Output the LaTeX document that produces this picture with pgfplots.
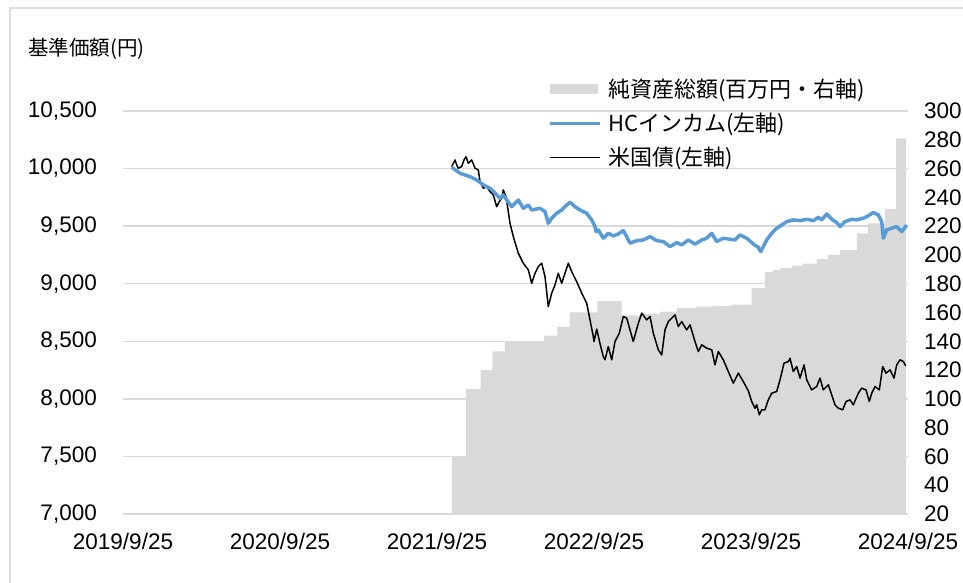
\documentclass[border=0pt]{standalone}
\usepackage{pgfplots}
\pgfplotsset{compat=1.18}
\usepackage{fontspec}
\setmainfont{Liberation Sans}
\newfontfamily\jp{Noto Sans CJK JP}
\definecolor{areagray}{RGB}{217,217,217}
\definecolor{gridgray}{RGB}{217,217,217}
\definecolor{hcblue}{RGB}{91,155,213}
\definecolor{framegray}{RGB}{220,220,220}

\pgfplotstableread{
t v
2.097 60
2.185 107
2.278 120
2.352 133
2.433 140
2.683 144
2.766 150
2.847 160
3.021 168
3.176 158
3.300 159
3.420 160.6
3.529 163
3.650 164
3.758 164.6
3.880 165.5
4.004 177
4.089 188
4.140 189.5
4.185 191
4.260 192.5
4.331 194
4.420 197
4.490 200
4.567 203.5
4.675 215
4.745 222
4.854 232
4.924 281
4.987 281
}\assets

\pgfplotstableread{
t v
2.0936 10011
2.1465 9959
2.2102 9930
2.2529 9901
2.2949 9858
2.3376 9829
2.3694 9786
2.4013 9742
2.4223 9771
2.4439 9727
2.4758 9669
2.5178 9727
2.5497 9655
2.5815 9684
2.6032 9640
2.6561 9655
2.6879 9626
2.7089 9525
2.7306 9569
2.7624 9612
2.7943 9640
2.8261 9684
2.8471 9707
2.8790 9669
2.9108 9640
2.9535 9612
2.9854 9554
3.0064 9496
3.0127 9452
3.0274 9467
3.0592 9395
3.0911 9438
3.1229 9415
3.1548 9432
3.1866 9461
3.2083 9409
3.2293 9352
3.2720 9374
3.3140 9380
3.3567 9409
3.3994 9374
3.4414 9366
3.4841 9322
3.5268 9357
3.5586 9337
3.6006 9380
3.6433 9343
3.6860 9380
3.7178 9395
3.7497 9438
3.7815 9366
3.8236 9395
3.8662 9386
3.8981 9380
3.9299 9424
3.9726 9395
4.0146 9345
4.0465 9315
4.0618 9279
4.0783 9322
4.1000 9380
4.1318 9438
4.1637 9482
4.1955 9510
4.2274 9539
4.2694 9554
4.3121 9548
4.3548 9560
4.3968 9548
4.4287 9577
4.4503 9554
4.4822 9606
4.5140 9560
4.5459 9531
4.5669 9496
4.5987 9539
4.6414 9560
4.6732 9554
4.7153 9569
4.7471 9589
4.7790 9618
4.8108 9598
4.8325 9539
4.8427 9395
4.8643 9467
4.8962 9482
4.9280 9496
4.9599 9452
4.9917 9510
}\hc

\pgfplotstableread{
t v
2.0936 10017
2.1146 10075
2.1255 10031
2.1357 10003
2.1573 10017
2.1720 10075
2.1847 10103
2.1994 10046
2.2210 10075
2.2420 10003
2.2631 9988
2.2739 9886
2.2949 9829
2.3166 9843
2.3376 9800
2.3586 9771
2.3803 9669
2.3968 9713
2.4121 9742
2.4223 9814
2.4395 9756
2.4541 9626
2.4650 9525
2.4860 9409
2.5178 9265
2.5497 9178
2.5815 9120
2.6032 9004
2.6242 9091
2.6452 9149
2.6669 9178
2.6879 9062
2.7089 8801
2.7306 8918
2.7516 8990
2.7726 9091
2.7943 9004
2.8153 9091
2.8363 9178
2.8580 9105
2.8898 9018
2.9217 8918
2.9535 8830
2.9745 8686
2.9955 8541
3.0000 8498
3.0172 8606
3.0382 8480
3.0592 8367
3.0701 8339
3.0911 8454
3.1127 8339
3.1338 8498
3.1611 8570
3.1866 8715
3.2083 8701
3.2293 8599
3.2503 8498
3.2822 8657
3.3038 8744
3.3357 8686
3.3567 8715
3.3777 8570
3.4096 8426
3.4312 8382
3.4522 8599
3.4732 8671
3.5159 8729
3.5369 8628
3.5586 8671
3.5904 8599
3.6115 8643
3.6433 8498
3.6643 8411
3.6860 8469
3.7178 8440
3.7497 8426
3.7707 8295
3.7917 8411
3.8236 8339
3.8554 8237
3.8873 8136
3.9191 8223
3.9510 8150
3.9828 8070
4.0045 7977
4.0146 7948
4.0255 7919
4.0363 7950
4.0529 7861
4.0573 7876
4.0682 7905
4.0892 7905
4.1102 7991
4.1318 8049
4.1637 8064
4.1847 8165
4.2102 8310
4.2376 8324
4.2484 8353
4.2694 8237
4.2911 8281
4.3121 8180
4.3376 8295
4.3548 8165
4.3866 8078
4.4185 8107
4.4395 8180
4.4605 8078
4.4924 8122
4.5140 8035
4.5350 7948
4.5561 7919
4.5841 7905
4.6051 7977
4.6306 7991
4.6516 7948
4.6834 8049
4.7051 8093
4.7325 8078
4.7535 7977
4.7688 8049
4.7898 8107
4.8172 8078
4.8389 8281
4.8599 8223
4.8854 8252
4.9108 8180
4.9280 8295
4.9490 8339
4.9701 8324
4.9854 8287
}\ust

\begin{document}
\begin{tikzpicture}
\useasboundingbox (0,0) rectangle (963pt,583pt);
\draw[framegray, line width=1.2pt] (10pt,0pt) -- (10pt,575pt) -- (963pt,575pt);
\node[anchor=west, inner sep=0pt, font=\jp\fontsize{20.5}{24}\selectfont] at (28pt,534pt) {基準価額(円)};
\pgfplotsset{
  base/.style={scale only axis, width=785pt, height=403pt, at={(123pt,69pt)},
    anchor=south west, xmin=0, xmax=5,
    ticklabel style={font=\fontsize{22.5}{27}\selectfont},
    /pgf/number format/assume math mode=true,
    /pgf/number format/1000 sep={,},
    scaled y ticks=false,
    major tick length=0pt, tick style={draw=none}},
}
% axis A: grid and left/bottom labels
\begin{axis}[base, ymin=7000, ymax=10500, ytick={7000,7500,...,10500},
  xtick={0,1,2,3,4,5},
  xticklabels={2019/9/25,2020/9/25,2021/9/25,2022/9/25,2023/9/25,2024/9/25},
  ymajorgrids, grid style={gridgray, line width=1.5pt},
  axis line style={draw=none},
  yticklabel style={inner sep=0pt, xshift=-26pt},
  xticklabel style={inner sep=0pt, yshift=-19pt}]
\addplot[draw=none, forget plot] coordinates {(0,7000)};
\end{axis}
% axis B: net assets (right axis) + legend
\begin{axis}[base, ymin=20, ymax=300, ytick={20,40,...,300},
  axis y line*=right, hide x axis, axis line style={draw=none},
  yticklabel style={inner sep=0pt, xshift=16pt},
  legend style={at={(rel axis cs:0.5414,1.079)}, anchor=north west,
    draw=none, fill=none, inner sep=0pt, row sep=14pt, column sep=7pt,
    font=\jp\fontsize{22}{24}\selectfont,
    nodes={inner sep=0pt}},
  legend cell align=left]
\addplot[const plot, fill=areagray, draw=none,
  legend image code/.code={\fill[areagray] (0pt,-5pt) rectangle (48pt,5pt);}]
  table[x=t, y=v] {\assets} \closedcycle;
\addlegendentry{純資産総額(百万円・右軸)}
\addlegendimage{legend image code/.code={\draw[hcblue, line width=3.2pt] (0pt,0pt) -- (50pt,0pt);}}
\addlegendentry{HCインカム(左軸)}
\addlegendimage{legend image code/.code={\draw[black, line width=1.2pt] (0pt,0pt) -- (50pt,0pt);}}
\addlegendentry{米国債(左軸)}
\end{axis}
% axis C: lines
\begin{axis}[base, ymin=7000, ymax=10500, hide axis]
\addplot[black, line width=1.5pt, line join=round] table[x=t, y=v] {\ust};
\addplot[hcblue, line width=3.5pt, line join=round] table[x=t, y=v] {\hc};
\end{axis}
\end{tikzpicture}
\end{document}
